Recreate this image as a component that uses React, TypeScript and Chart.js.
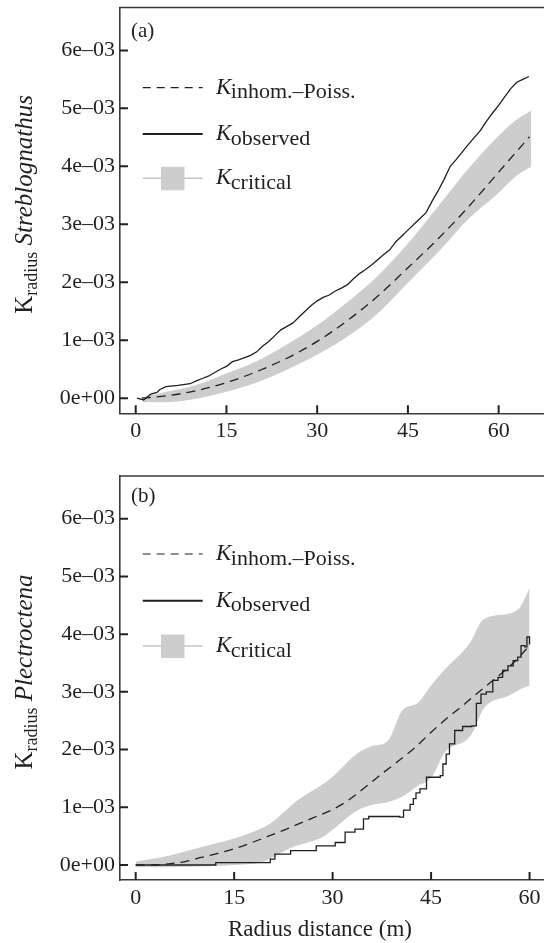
import React, { useEffect, useRef } from "react";
import { Chart, registerables } from "chart.js";

Chart.register(...registerables);

const SERIF = "'Liberation Serif', 'Times New Roman', serif";
const INK = "#231f20";
const AXIS = "#3a3a3a";
const BAND = "#cdcdcd";
const BAND_LINE = "#c4c4c4";

// ---- shared axis data (y values in units of 1e-3) ----
const xTickValues = [0, 15, 30, 45, 60];
const yTickValues = [0, 1, 2, 3, 4, 5, 6];
const yTickLabels = ["0e+00", "1e\u201303", "2e\u201303", "3e\u201303", "4e\u201303", "5e\u201303", "6e\u201303"];
const xAxisTitle = "Radius distance (m)";
const legendSubs = ["inhom.\u2013Poiss.", "observed", "critical"];

// ---- panel (a) Streblognathus ----
const aPoissX = [1, 5, 10, 15, 20, 25, 30, 35, 40, 45, 50, 55, 60, 65.1];
const aPoissY = [0, 0.04, 0.13, 0.27, 0.46, 0.69, 0.98, 1.34, 1.76, 2.25, 2.75, 3.3, 3.9, 4.51];
const aObsX = [0.2, 1.3, 2.5, 3.5, 4, 5, 7, 9, 10, 11, 12, 13, 14, 15, 16, 17, 18, 19, 20, 21, 22, 23, 24, 25, 26, 27, 28, 29, 30, 31, 32, 33, 34, 35, 36, 37, 38, 39, 40, 41, 42, 43, 44, 45, 46, 47, 48, 48.5, 49, 50, 51, 52, 53, 54, 55, 56, 57, 58, 59, 60, 61, 62, 63, 64, 65];
const aObsY = [0, -0.03, 0.07, 0.1, 0.15, 0.2, 0.22, 0.25, 0.3, 0.34, 0.38, 0.44, 0.5, 0.55, 0.63, 0.66, 0.7, 0.74, 0.8, 0.9, 0.98, 1.08, 1.18, 1.24, 1.3, 1.4, 1.5, 1.6, 1.68, 1.74, 1.78, 1.85, 1.9, 1.96, 2.06, 2.15, 2.22, 2.3, 2.39, 2.48, 2.56, 2.7, 2.8, 2.9, 3.0, 3.1, 3.2, 3.3, 3.4, 3.58, 3.78, 4.0, 4.12, 4.25, 4.38, 4.5, 4.62, 4.78, 4.92, 5.05, 5.2, 5.34, 5.45, 5.5, 5.55];
const aBandX = [1.2, 5, 10, 15, 20, 25, 30, 35, 40, 45, 50, 55, 60, 63, 65.4];
const aBandLow = [-0.06, -0.06, 0.0, 0.12, 0.28, 0.5, 0.76, 1.07, 1.47, 2.0, 2.53, 3.1, 3.55, 3.85, 4.0];
const aBandHigh = [0.01, 0.1, 0.22, 0.42, 0.63, 0.92, 1.25, 1.65, 2.1, 2.66, 3.3, 3.95, 4.52, 4.8, 4.95];

// ---- panel (b) Plectroctena ----
const bPoissX = [0, 3, 5, 7.5, 10, 12.5, 15, 17.5, 20, 22.5, 25, 27.5, 30, 32.5, 35, 37.5, 40, 42.5, 45, 47.5, 50, 52.5, 55, 57.5, 60];
const bPoissY = [0, 0, 0.02, 0.06, 0.13, 0.2, 0.28, 0.38, 0.49, 0.6, 0.72, 0.84, 0.96, 1.13, 1.35, 1.58, 1.8, 2.03, 2.3, 2.55, 2.78, 3.02, 3.25, 3.5, 3.8];
const bObsX = [0, 12.2, 20.5, 21.2, 23.6, 27.5, 30.4, 31.9, 33.4, 34.7, 35.5, 40.2, 40.8, 41.8, 42.3, 42.7, 43.3, 44.3, 46.4, 46.8, 47.3, 47.8, 48.6, 49.8, 51.2, 51.9, 52.6, 53.4, 54.4, 55.2, 55.9, 56.7, 57.5, 58.2, 58.7, 59.3, 59.6, 60];
const bObsY = [0, 0.04, 0.1, 0.19, 0.25, 0.33, 0.39, 0.57, 0.62, 0.8, 0.84, 0.83, 0.95, 1.05, 1.15, 1.25, 1.32, 1.52, 1.55, 1.75, 1.92, 2.1, 2.33, 2.4, 2.41, 2.8, 2.96, 3.0, 3.2, 3.25, 3.37, 3.45, 3.54, 3.6, 3.8, 3.78, 3.95, 3.82];
const bBandX = [0, 5, 8.3, 12, 15, 19, 20.5, 23.5, 24.5, 28.6, 30, 33.7, 36, 38.5, 40.7, 43, 45, 47, 51, 53, 57, 58.7, 60];
const bBandLow = [-0.03, -0.03, -0.02, -0.01, 0.01, 0.05, 0.12, 0.3, 0.34, 0.5, 0.62, 0.95, 1.05, 1.1, 1.2, 1.38, 1.52, 1.95, 2.25, 2.72, 2.95, 3.06, 3.12];
const bBandHigh = [0.05, 0.15, 0.25, 0.36, 0.45, 0.62, 0.71, 1.0, 1.1, 1.4, 1.52, 1.92, 2.05, 2.15, 2.68, 2.8, 3.1, 3.37, 3.85, 4.25, 4.35, 4.48, 4.78];

type PanelCfg = {
  tag: string;
  species: string;
  height: number;
  padTop: number;
  xAxisH: number;
  xMin: number;
  xMax: number;
  poissX: number[]; poissY: number[];
  obsX: number[]; obsY: number[];
  bandX: number[]; bandLow: number[]; bandHigh: number[];
  stepped: boolean;
  tagY: number;
  legendY: number[];
  showXTitle: boolean;
};

const panels: PanelCfg[] = [
  {
    tag: "(a)", species: "Streblognathus", height: 460, padTop: 7.5, xAxisH: 46.7,
    xMin: -2.6, xMax: 67.5,
    poissX: aPoissX, poissY: aPoissY, obsX: aObsX, obsY: aObsY,
    bandX: aBandX, bandLow: aBandLow, bandHigh: aBandHigh, stepped: false,
    tagY: 36.5, legendY: [87.7, 134, 178.3], showXTitle: false,
  },
  {
    tag: "(b)", species: "Plectroctena", height: 483, padTop: 16, xAxisH: 63,
    xMin: -2.39, xMax: 62.2,
    poissX: bPoissX, poissY: bPoissY, obsX: bObsX, obsY: bObsY,
    bandX: bBandX, bandLow: bBandLow, bandHigh: bBandHigh, stepped: true,
    tagY: 41.5, legendY: [94, 140.7, 186], showXTitle: true,
  },
];

const pts = (xs: number[], ys: number[]) => xs.map((x, i) => ({ x, y: ys[i] }));

function panelPlugin(p: PanelCfg) {
  return {
    id: "panelDecor",
    afterDraw(chart: any) {
      const ctx: CanvasRenderingContext2D = chart.ctx;
      const { left, top, right, bottom } = chart.chartArea;
      const xs = chart.scales.x;
      const ys = chart.scales.y;
      ctx.save();
      // top frame line
      ctx.strokeStyle = AXIS;
      ctx.lineWidth = 1.6;
      ctx.beginPath();
      ctx.moveTo(left - 0.8, top);
      ctx.lineTo(right, top);
      ctx.stroke();
      // inward tick marks
      ctx.lineWidth = 2;
      ctx.strokeStyle = "#222";
      ctx.beginPath();
      xs.ticks.forEach((t: any) => {
        const px = xs.getPixelForValue(t.value);
        ctx.moveTo(px, bottom);
        ctx.lineTo(px, bottom - 8);
      });
      ys.ticks.forEach((t: any) => {
        const py = ys.getPixelForValue(t.value);
        ctx.moveTo(left, py);
        ctx.lineTo(left + 8, py);
      });
      ctx.stroke();

      ctx.fillStyle = INK;
      ctx.textBaseline = "alphabetic";
      ctx.textAlign = "left";
      // panel tag
      ctx.font = `21px ${SERIF}`;
      ctx.fillText(p.tag, 131, p.tagY);

      // legend
      const lx0 = 142.7, lx1 = 202.7, tx = 216;
      p.legendY.forEach((ly, i) => {
        if (i === 0) {
          ctx.strokeStyle = INK; ctx.lineWidth = 1.2; ctx.setLineDash([8, 6]);
          ctx.beginPath(); ctx.moveTo(lx0, ly); ctx.lineTo(lx1, ly); ctx.stroke();
          ctx.setLineDash([]);
        } else if (i === 1) {
          ctx.strokeStyle = INK; ctx.lineWidth = 2;
          ctx.beginPath(); ctx.moveTo(lx0, ly); ctx.lineTo(lx1, ly); ctx.stroke();
        } else {
          ctx.strokeStyle = BAND_LINE; ctx.lineWidth = 1.6;
          ctx.beginPath(); ctx.moveTo(lx0, ly); ctx.lineTo(lx1, ly); ctx.stroke();
          ctx.fillStyle = BAND;
          ctx.fillRect(161, ly - 11.5, 23.5, 23.5);
          ctx.fillStyle = INK;
        }
        ctx.font = `italic 23px ${SERIF}`;
        ctx.fillText("K", tx, ly + 5.8);
        const wk = ctx.measureText("K").width;
        ctx.font = `22px ${SERIF}`;
        ctx.fillText(legendSubs[i], tx + wk - 0.5, ly + 10.5);
      });

      // y-axis title (rotated, mixed styles)
      const cy = (top + bottom) / 2 - 6;
      ctx.save();
      ctx.translate(32, cy);
      ctx.rotate(-Math.PI / 2);
      ctx.font = `25px ${SERIF}`;
      const wK = ctx.measureText("K").width;
      ctx.font = `18px ${SERIF}`;
      const wSub = ctx.measureText("radius").width;
      ctx.font = `italic 25px ${SERIF}`;
      const wSp = ctx.measureText(" " + p.species).width;
      const total = wK + wSub + wSp;
      const x0 = -total / 2;
      ctx.font = `25px ${SERIF}`;
      ctx.fillText("K", x0, 0);
      ctx.font = `18px ${SERIF}`;
      ctx.fillText("radius", x0 + wK, 5);
      ctx.font = `italic 25px ${SERIF}`;
      ctx.fillText(" " + p.species, x0 + wK + wSub, 0);
      ctx.restore();

      if (p.showXTitle) {
        ctx.font = `23px ${SERIF}`;
        ctx.textAlign = "center";
        ctx.textBaseline = "middle";
        ctx.fillText(xAxisTitle, 320, 470);
      }
      ctx.restore();
    },
  };
}

function buildChart(canvas: HTMLCanvasElement, p: PanelCfg) {
  return new Chart(canvas, {
    type: "line",
    data: {
      datasets: [
        {
          label: "critical-low",
          data: pts(p.bandX, p.bandLow),
          borderColor: BAND, borderWidth: 1, pointRadius: 0, fill: false,
          cubicInterpolationMode: "monotone", order: 3,
        },
        {
          label: "critical",
          data: pts(p.bandX, p.bandHigh),
          borderColor: BAND, borderWidth: 1, pointRadius: 0, fill: "-1",
          backgroundColor: BAND, cubicInterpolationMode: "monotone", order: 2,
        },
        {
          label: "inhom.-Poiss.",
          data: pts(p.poissX, p.poissY),
          borderColor: INK, borderWidth: 1.3, borderDash: [9, 6], pointRadius: 0, fill: false,
          cubicInterpolationMode: "monotone", order: 1,
        },
        {
          label: "observed",
          data: pts(p.obsX, p.obsY),
          borderColor: INK, borderWidth: 1.3, pointRadius: 0, fill: false,
          stepped: p.stepped ? "before" : false, order: 0,
        },
      ],
    } as any,
    options: {
      responsive: false,
      animation: false,
      devicePixelRatio: 1,
      layout: { padding: { top: p.padTop, left: 0, right: 0, bottom: 0 } },
      plugins: { legend: { display: false }, tooltip: { enabled: false }, title: { display: false } },
      scales: {
        x: {
          type: "linear",
          min: p.xMin,
          max: p.xMax,
          afterBuildTicks: (s: any) => { s.ticks = xTickValues.map((v) => ({ value: v })); },
          afterFit: (s: any) => { s.height = p.xAxisH; s.paddingLeft = 0; s.paddingRight = 0; },
          grid: { display: false, drawTicks: false },
          border: { display: true, color: AXIS, width: 1.6 },
          ticks: {
            color: INK, font: { family: SERIF, size: 22 }, padding: 5,
            maxRotation: 0, autoSkip: false, callback: (v: any) => String(v),
          },
        },
        y: {
          type: "linear",
          min: -0.26,
          max: 6.74,
          afterBuildTicks: (s: any) => { s.ticks = yTickValues.map((v) => ({ value: v })); },
          afterFit: (s: any) => { s.width = 120; s.paddingTop = 0; s.paddingBottom = 0; },
          grid: { display: false, drawTicks: false },
          border: { display: true, color: AXIS, width: 1.6 },
          ticks: {
            color: INK, font: { family: SERIF, size: 22 }, padding: 5, autoSkip: false,
            callback: (v: any) => yTickLabels[yTickValues.indexOf(v)] ?? "",
          },
        },
      },
    } as any,
    plugins: [panelPlugin(p)],
  });
}

function Panel({ p }: { p: PanelCfg }) {
  const ref = useRef<HTMLCanvasElement>(null);
  useEffect(() => {
    if (!ref.current) return;
    const c = buildChart(ref.current, p);
    return () => c.destroy();
  }, [p]);
  return <canvas ref={ref} width={544} height={p.height} style={{ display: "block", width: 544, height: p.height }} />;
}

export default function App() {
  return (
    <div style={{ position: "fixed", left: 0, top: 0, width: 544, height: 943, background: "#fff", overflow: "hidden" }}>
      {panels.map((p) => (
        <Panel key={p.tag} p={p} />
      ))}
    </div>
  );
}
